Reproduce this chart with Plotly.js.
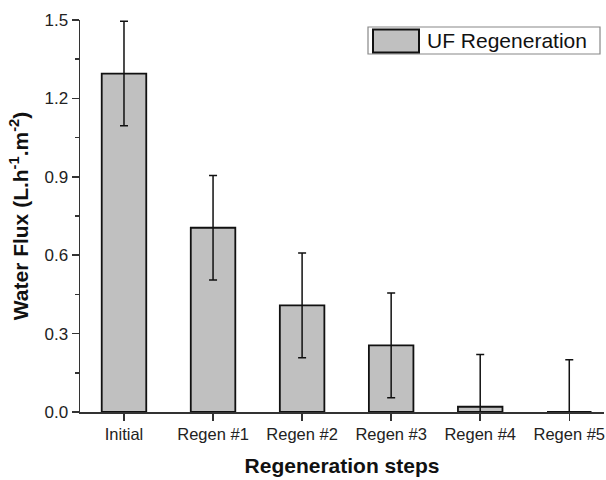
<!DOCTYPE html>
<html>
<head>
<meta charset="utf-8">
<script src="https://cdn.plot.ly/plotly-3.0.1.min.js"></script>
<style>html,body{margin:0;padding:0;background:#fff;}#chart{width:606px;height:480px;}</style>
</head>
<body>
<div id="chart"></div>
<script>
const categories = ["Initial", "Regen #1", "Regen #2", "Regen #3", "Regen #4", "Regen #5"];
const fluxValues = [1.295, 0.705, 0.408, 0.255, 0.02, 0.0];
const fluxErrors = [0.2, 0.2, 0.2, 0.2, 0.2, 0.2];
const yTickVals = [0, 0.3, 0.6, 0.9, 1.2, 1.5];
const seriesName = "UF Regeneration";

const FONT = "Liberation Sans, Arial, sans-serif";

const trace = {
  type: "bar",
  x: categories,
  y: fluxValues,
  name: seriesName,
  width: 0.5,
  marker: {color: "#c0c0c0", line: {color: "#111", width: 1.8}},
  error_y: {type: "data", array: fluxErrors, visible: true, color: "#111", thickness: 1.5, width: 4},
  showlegend: false
};

const layout = {
  width: 606, height: 480,
  margin: {l: 80, r: 2, t: 20, b: 68},
  paper_bgcolor: "#fff", plot_bgcolor: "#fff",
  font: {family: FONT, color: "#222", size: 16},
  xaxis: {
    range: [-0.494, 5.39],
    showline: true, linecolor: "#333", linewidth: 1.5,
    ticks: "outside", ticklen: 7, tickwidth: 1.5, tickcolor: "#333",
    showgrid: false, zeroline: false,
    tickfont: {family: FONT, size: 16.5, color: "#222"},
    title: {text: "<b>Regeneration steps</b>", font: {family: FONT, size: 21, color: "#111"}, standoff: 16}
  },
  yaxis: {
    range: [0, 1.5],
    tickvals: yTickVals, tickformat: ".1f",
    showline: true, linecolor: "#333", linewidth: 1.5,
    ticks: "outside", ticklen: 7, tickwidth: 1.5, tickcolor: "#333",
    minor: {dtick: 0.15, ticks: "outside", ticklen: 4, tickwidth: 1.5, tickcolor: "#333"},
    showgrid: false, zeroline: false,
    tickfont: {family: FONT, size: 17, color: "#222"},
    title: {text: "<b>Water Flux (L.h<sup>-1</sup>.m<sup>-2</sup>)</b>", font: {family: FONT, size: 21, color: "#111"}, standoff: 10}
  },
  shapes: [
    {type: "rect", xref: "paper", yref: "paper", x0: (368-80)/524, x1: (600-80)/524, y0: (412-54)/392, y1: (412-27)/392,
     line: {color: "#888", width: 1.2}, fillcolor: "#fff"},
    {type: "rect", xref: "paper", yref: "paper", x0: (373-80)/524, x1: (419-80)/524, y0: (412-52.5)/392, y1: (412-29.5)/392,
     line: {color: "#111", width: 2}, fillcolor: "#c0c0c0"}
  ],
  annotations: [
    {xref: "paper", yref: "paper", x: (425-80)/524, y: (412-40.5)/392, xanchor: "left", yanchor: "middle",
     text: seriesName, showarrow: false, font: {family: FONT, size: 21, color: "#111"}}
  ]
};

Plotly.newPlot("chart", [trace], layout, {displayModeBar: false, staticPlot: true});
</script>
</body>
</html>
